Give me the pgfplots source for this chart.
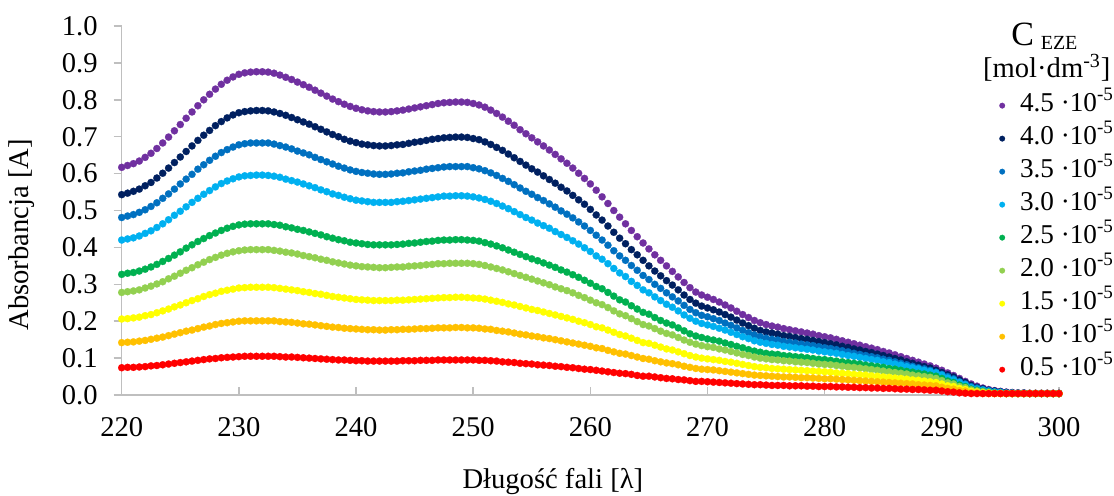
\documentclass[border=0pt]{standalone}
\usepackage{pgfplots}
\pgfplotsset{compat=1.18}
\usepackage{pgfplotstable}
\usepackage{fontspec}
\setmainfont{Liberation Serif}

\definecolor{c45}{HTML}{7030A0}
\definecolor{c40}{HTML}{002060}
\definecolor{c35}{HTML}{0070C0}
\definecolor{c30}{HTML}{00B0F0}
\definecolor{c25}{HTML}{00B050}
\definecolor{c20}{HTML}{92D050}
\definecolor{c15}{HTML}{FFFF00}
\definecolor{c10}{HTML}{FFC000}
\definecolor{c05}{HTML}{FF0000}
\definecolor{axisgray}{HTML}{BFBFBF}

\newcommand{\lbl}{\fontsize{14.3pt}{17pt}\selectfont}
\newcommand{\leg}{\fontsize{13.6pt}{16pt}\selectfont}

% UV spectra of EZE, absorbance vs. wavelength (0.5 nm step)
\pgfplotstableread{
lambda a45 a40 a35 a30 a25 a20 a15 a10 a05
220.0 0.617 0.543 0.481 0.420 0.327 0.278 0.206 0.142 0.074
220.5 0.622 0.547 0.485 0.423 0.330 0.280 0.207 0.143 0.075
221.0 0.627 0.552 0.489 0.426 0.332 0.282 0.209 0.144 0.075
221.5 0.634 0.558 0.495 0.431 0.336 0.285 0.211 0.146 0.076
222.0 0.644 0.567 0.502 0.438 0.341 0.290 0.215 0.148 0.077
222.5 0.655 0.576 0.511 0.445 0.347 0.295 0.218 0.151 0.079
223.0 0.668 0.588 0.521 0.454 0.354 0.301 0.223 0.154 0.080
223.5 0.683 0.601 0.533 0.464 0.362 0.307 0.228 0.157 0.082
224.0 0.699 0.615 0.545 0.475 0.370 0.315 0.233 0.161 0.084
224.5 0.716 0.630 0.558 0.487 0.379 0.322 0.239 0.165 0.086
225.0 0.733 0.645 0.572 0.498 0.388 0.330 0.244 0.169 0.088
225.5 0.750 0.660 0.585 0.510 0.398 0.338 0.250 0.173 0.090
226.0 0.767 0.675 0.598 0.522 0.407 0.345 0.256 0.176 0.092
226.5 0.784 0.690 0.612 0.533 0.416 0.353 0.261 0.180 0.094
227.0 0.800 0.704 0.624 0.544 0.424 0.360 0.267 0.184 0.096
227.5 0.815 0.717 0.636 0.554 0.432 0.367 0.272 0.187 0.098
228.0 0.829 0.730 0.647 0.564 0.439 0.373 0.276 0.191 0.099
228.5 0.842 0.741 0.657 0.573 0.446 0.379 0.281 0.194 0.101
229.0 0.853 0.751 0.665 0.580 0.452 0.384 0.284 0.196 0.102
229.5 0.862 0.759 0.672 0.586 0.457 0.388 0.287 0.198 0.103
230.0 0.869 0.765 0.678 0.591 0.461 0.391 0.290 0.200 0.104
230.5 0.873 0.768 0.681 0.594 0.463 0.393 0.291 0.201 0.105
231.0 0.875 0.770 0.683 0.595 0.464 0.394 0.292 0.201 0.105
231.5 0.876 0.771 0.683 0.596 0.464 0.394 0.292 0.201 0.105
232.0 0.876 0.771 0.683 0.596 0.464 0.394 0.292 0.201 0.105
232.5 0.875 0.770 0.683 0.595 0.464 0.394 0.292 0.201 0.105
233.0 0.872 0.767 0.680 0.593 0.462 0.392 0.291 0.201 0.105
233.5 0.867 0.763 0.676 0.590 0.460 0.390 0.289 0.199 0.104
234.0 0.861 0.758 0.672 0.585 0.456 0.387 0.287 0.198 0.103
234.5 0.855 0.752 0.667 0.581 0.453 0.385 0.285 0.197 0.103
235.0 0.848 0.746 0.661 0.577 0.449 0.382 0.283 0.195 0.102
235.5 0.841 0.740 0.656 0.572 0.446 0.378 0.280 0.193 0.101
236.0 0.834 0.734 0.651 0.567 0.442 0.375 0.278 0.192 0.100
236.5 0.826 0.727 0.644 0.562 0.438 0.372 0.275 0.190 0.099
237.0 0.818 0.720 0.638 0.556 0.434 0.368 0.273 0.188 0.098
237.5 0.810 0.713 0.632 0.551 0.429 0.365 0.270 0.186 0.097
238.0 0.802 0.706 0.626 0.545 0.425 0.361 0.267 0.184 0.096
238.5 0.795 0.700 0.620 0.541 0.421 0.358 0.265 0.183 0.095
239.0 0.788 0.693 0.615 0.536 0.418 0.355 0.263 0.181 0.095
239.5 0.782 0.688 0.610 0.532 0.414 0.352 0.261 0.180 0.094
240.0 0.777 0.684 0.606 0.528 0.412 0.350 0.259 0.179 0.093
240.5 0.773 0.680 0.603 0.526 0.410 0.348 0.258 0.178 0.093
241.0 0.770 0.678 0.601 0.524 0.408 0.347 0.257 0.177 0.092
241.5 0.768 0.676 0.599 0.522 0.407 0.346 0.256 0.177 0.092
242.0 0.767 0.675 0.598 0.522 0.407 0.345 0.256 0.176 0.092
242.5 0.767 0.675 0.598 0.522 0.407 0.345 0.256 0.176 0.092
243.0 0.768 0.676 0.599 0.522 0.407 0.346 0.256 0.177 0.092
243.5 0.770 0.678 0.601 0.524 0.408 0.347 0.257 0.177 0.092
244.0 0.772 0.679 0.602 0.525 0.409 0.347 0.257 0.178 0.093
244.5 0.775 0.682 0.605 0.527 0.411 0.349 0.258 0.178 0.093
245.0 0.778 0.685 0.607 0.529 0.412 0.350 0.259 0.179 0.093
245.5 0.781 0.687 0.609 0.531 0.414 0.351 0.260 0.180 0.094
246.0 0.784 0.690 0.612 0.533 0.416 0.353 0.261 0.180 0.094
246.5 0.787 0.693 0.614 0.535 0.417 0.354 0.262 0.181 0.094
247.0 0.790 0.695 0.616 0.537 0.419 0.356 0.263 0.182 0.095
247.5 0.792 0.697 0.618 0.539 0.420 0.356 0.264 0.182 0.095
248.0 0.793 0.698 0.619 0.539 0.420 0.357 0.264 0.182 0.095
248.5 0.794 0.699 0.619 0.540 0.421 0.357 0.265 0.183 0.095
249.0 0.794 0.699 0.619 0.540 0.421 0.357 0.265 0.183 0.095
249.5 0.793 0.698 0.619 0.539 0.420 0.357 0.264 0.182 0.095
250.0 0.790 0.695 0.616 0.537 0.419 0.356 0.263 0.182 0.095
250.5 0.786 0.692 0.613 0.534 0.417 0.354 0.262 0.181 0.094
251.0 0.780 0.686 0.608 0.530 0.413 0.351 0.260 0.179 0.094
251.5 0.772 0.679 0.602 0.525 0.409 0.347 0.257 0.178 0.093
252.0 0.763 0.671 0.595 0.519 0.404 0.343 0.254 0.175 0.092
252.5 0.753 0.663 0.587 0.512 0.399 0.339 0.251 0.173 0.090
253.0 0.742 0.653 0.579 0.505 0.393 0.334 0.247 0.171 0.089
253.5 0.731 0.643 0.570 0.497 0.387 0.329 0.244 0.168 0.088
254.0 0.719 0.633 0.561 0.489 0.381 0.324 0.240 0.165 0.086
254.5 0.708 0.623 0.552 0.481 0.375 0.319 0.236 0.163 0.085
255.0 0.697 0.613 0.544 0.474 0.369 0.314 0.232 0.160 0.084
255.5 0.686 0.604 0.535 0.466 0.364 0.309 0.229 0.158 0.082
256.0 0.675 0.594 0.527 0.459 0.358 0.304 0.225 0.155 0.081
256.5 0.664 0.584 0.518 0.452 0.352 0.299 0.221 0.153 0.080
257.0 0.652 0.574 0.509 0.443 0.346 0.293 0.217 0.150 0.078
257.5 0.640 0.563 0.499 0.435 0.339 0.288 0.213 0.147 0.077
258.0 0.628 0.553 0.490 0.427 0.333 0.283 0.209 0.144 0.075
258.5 0.615 0.541 0.480 0.418 0.326 0.277 0.205 0.141 0.074
259.0 0.601 0.529 0.469 0.409 0.319 0.270 0.200 0.138 0.072
259.5 0.587 0.517 0.458 0.399 0.311 0.264 0.196 0.135 0.070
260.0 0.572 0.503 0.446 0.389 0.303 0.257 0.191 0.132 0.069
260.5 0.555 0.488 0.433 0.377 0.294 0.250 0.185 0.128 0.067
261.0 0.537 0.474 0.420 0.368 0.288 0.245 0.182 0.126 0.065
261.5 0.519 0.458 0.406 0.356 0.278 0.237 0.176 0.121 0.063
262.0 0.500 0.441 0.391 0.343 0.268 0.228 0.170 0.117 0.061
262.5 0.482 0.425 0.377 0.331 0.258 0.220 0.164 0.113 0.059
263.0 0.464 0.410 0.365 0.321 0.252 0.215 0.160 0.111 0.058
263.5 0.446 0.394 0.351 0.308 0.242 0.207 0.154 0.107 0.056
264.0 0.429 0.380 0.338 0.297 0.233 0.199 0.148 0.103 0.053
264.5 0.412 0.365 0.324 0.285 0.224 0.191 0.142 0.099 0.051
265.0 0.396 0.350 0.313 0.277 0.219 0.187 0.140 0.097 0.051
265.5 0.380 0.336 0.300 0.266 0.210 0.180 0.135 0.093 0.049
266.0 0.365 0.323 0.289 0.256 0.202 0.173 0.130 0.090 0.047
266.5 0.350 0.310 0.277 0.246 0.195 0.167 0.125 0.087 0.045
267.0 0.335 0.298 0.266 0.238 0.190 0.163 0.122 0.085 0.044
267.5 0.320 0.285 0.255 0.228 0.182 0.156 0.117 0.082 0.042
268.0 0.305 0.271 0.243 0.217 0.174 0.149 0.112 0.078 0.041
268.5 0.291 0.259 0.232 0.208 0.166 0.143 0.107 0.075 0.039
269.0 0.279 0.249 0.223 0.200 0.160 0.138 0.103 0.072 0.037
269.5 0.271 0.241 0.216 0.194 0.156 0.134 0.100 0.070 0.037
270.0 0.265 0.236 0.212 0.190 0.152 0.131 0.098 0.069 0.036
270.5 0.259 0.231 0.207 0.186 0.149 0.129 0.096 0.068 0.035
271.0 0.252 0.225 0.202 0.181 0.146 0.125 0.094 0.066 0.034
271.5 0.244 0.218 0.195 0.176 0.141 0.122 0.091 0.064 0.033
272.0 0.236 0.211 0.189 0.170 0.137 0.118 0.089 0.062 0.032
272.5 0.227 0.203 0.182 0.164 0.132 0.114 0.086 0.060 0.031
273.0 0.218 0.195 0.175 0.158 0.128 0.110 0.083 0.058 0.030
273.5 0.210 0.188 0.169 0.153 0.123 0.107 0.080 0.056 0.029
274.0 0.202 0.181 0.163 0.147 0.119 0.103 0.077 0.054 0.028
274.5 0.196 0.175 0.158 0.143 0.116 0.100 0.075 0.053 0.028
275.0 0.191 0.171 0.154 0.140 0.113 0.098 0.074 0.052 0.027
275.5 0.187 0.168 0.151 0.137 0.111 0.096 0.072 0.051 0.026
276.0 0.184 0.165 0.149 0.135 0.110 0.095 0.071 0.050 0.026
276.5 0.180 0.161 0.145 0.132 0.107 0.093 0.070 0.049 0.026
277.0 0.177 0.159 0.143 0.130 0.106 0.092 0.069 0.049 0.025
277.5 0.174 0.156 0.141 0.128 0.104 0.090 0.068 0.048 0.025
278.0 0.171 0.153 0.138 0.126 0.103 0.089 0.067 0.047 0.025
278.5 0.168 0.151 0.136 0.124 0.101 0.088 0.066 0.047 0.024
279.0 0.165 0.148 0.134 0.122 0.099 0.086 0.065 0.046 0.024
279.5 0.161 0.145 0.131 0.119 0.097 0.084 0.064 0.045 0.023
280.0 0.158 0.142 0.128 0.117 0.096 0.083 0.063 0.044 0.023
280.5 0.155 0.139 0.126 0.115 0.094 0.082 0.062 0.044 0.023
281.0 0.151 0.136 0.123 0.113 0.092 0.080 0.060 0.043 0.022
281.5 0.147 0.132 0.120 0.110 0.090 0.078 0.059 0.042 0.022
282.0 0.143 0.129 0.117 0.107 0.088 0.076 0.058 0.041 0.021
282.5 0.139 0.125 0.113 0.105 0.086 0.075 0.056 0.040 0.021
283.0 0.135 0.122 0.110 0.102 0.084 0.073 0.055 0.039 0.020
283.5 0.131 0.118 0.107 0.099 0.081 0.071 0.054 0.038 0.020
284.0 0.127 0.115 0.104 0.096 0.079 0.069 0.052 0.037 0.019
284.5 0.123 0.111 0.101 0.094 0.077 0.067 0.051 0.036 0.019
285.0 0.118 0.107 0.097 0.090 0.075 0.065 0.049 0.035 0.018
285.5 0.114 0.103 0.094 0.088 0.072 0.063 0.048 0.034 0.018
286.0 0.109 0.099 0.090 0.084 0.070 0.061 0.046 0.033 0.017
286.5 0.104 0.095 0.086 0.081 0.067 0.059 0.045 0.032 0.016
287.0 0.099 0.090 0.082 0.077 0.064 0.057 0.043 0.031 0.016
287.5 0.094 0.086 0.078 0.074 0.062 0.054 0.041 0.030 0.015
288.0 0.089 0.081 0.074 0.071 0.059 0.052 0.040 0.028 0.015
288.5 0.084 0.077 0.071 0.067 0.057 0.050 0.038 0.027 0.014
289.0 0.079 0.073 0.067 0.064 0.054 0.048 0.036 0.026 0.013
289.5 0.073 0.067 0.062 0.060 0.051 0.045 0.034 0.025 0.013
290.0 0.067 0.061 0.056 0.054 0.045 0.039 0.030 0.021 0.011
290.5 0.060 0.055 0.050 0.046 0.038 0.033 0.025 0.018 0.009
291.0 0.053 0.049 0.044 0.041 0.034 0.030 0.023 0.016 0.008
291.5 0.045 0.041 0.036 0.034 0.027 0.023 0.018 0.012 0.006
292.0 0.037 0.034 0.030 0.028 0.023 0.020 0.015 0.011 0.005
292.5 0.030 0.026 0.023 0.020 0.016 0.014 0.010 0.007 0.004
293.0 0.024 0.021 0.019 0.016 0.013 0.011 0.008 0.006 0.004
293.5 0.019 0.017 0.015 0.013 0.010 0.009 0.006 0.004 0.004
294.0 0.015 0.013 0.012 0.010 0.008 0.007 0.005 0.004 0.004
294.5 0.012 0.011 0.009 0.008 0.006 0.005 0.004 0.004 0.004
295.0 0.010 0.009 0.008 0.007 0.005 0.005 0.004 0.004 0.004
295.5 0.008 0.007 0.006 0.005 0.004 0.004 0.004 0.004 0.004
296.0 0.007 0.006 0.005 0.005 0.004 0.004 0.004 0.004 0.004
296.5 0.006 0.005 0.005 0.004 0.004 0.004 0.004 0.004 0.004
297.0 0.006 0.005 0.005 0.004 0.004 0.004 0.004 0.004 0.004
297.5 0.005 0.004 0.004 0.004 0.004 0.004 0.004 0.004 0.004
298.0 0.005 0.004 0.004 0.004 0.004 0.004 0.004 0.004 0.004
298.5 0.005 0.004 0.004 0.004 0.004 0.004 0.004 0.004 0.004
299.0 0.005 0.004 0.004 0.004 0.004 0.004 0.004 0.004 0.004
299.5 0.005 0.004 0.004 0.004 0.004 0.004 0.004 0.004 0.004
300.0 0.005 0.004 0.004 0.004 0.004 0.004 0.004 0.004 0.004
}\spectra

\pgfplotsset{
  spectrum/.style={only marks, mark=*, mark size=1.8pt,
    mark options={draw=#1, fill=#1, line width=0.1pt}},
}

\begin{document}
\begin{tikzpicture}
\begin{axis}[
  name=ax,
  scale only axis, width=468.6pt, height=184.5pt,
  xmin=220, xmax=300, ymin=0, ymax=1,
  clip=false,
  axis x line*=bottom, axis y line*=left,
  axis line style={axisgray, line width=0.75pt},
  tick style={axisgray, line width=0.75pt},
  major tick length=4pt, tick align=outside,
  x tick style={yshift=4pt},
  xtick={220,230,240,250,260,270,280,290,300},
  ytick={0,0.1,0.2,0.3,0.4,0.5,0.6,0.7,0.8,0.9,1},
  /pgf/number format/assume math mode=true,
  tick label style={font=\lbl, black},
  yticklabel style={xshift=-4.5pt, /pgf/number format/.cd, fixed, fixed zerofill, precision=1},
  xticklabel style={yshift=-3.7pt},
  xlabel={Długość fali [λ]},
  ylabel={Absorbancja [A]},
  label style={font=\lbl, black},
  xlabel style={at={(axis description cs:0.46,-0.252)}, anchor=base},
  ylabel style={at={(axis description cs:-0.1064,0.434)}, anchor=center},
  legend cell align=left,
  legend image code/.code={\draw[#1] plot coordinates {(0.1cm,0cm)};},
  legend image post style={mark size=1.4pt},
  legend style={at={(axis description cs:0.936,0.830)}, anchor=north west,
    draw=none, fill=none, inner sep=0pt, font=\leg, row sep=0pt,
    nodes={inner sep=0pt, text height=11pt, text depth=5.5pt},
    /tikz/every odd column/.append style={column sep=7.5pt}},
]
\addplot[spectrum=c45] table[x=lambda, y=a45] {\spectra};
\addlegendentry{4.5 ·10\textsuperscript{-5}}
\addplot[spectrum=c40] table[x=lambda, y=a40] {\spectra};
\addlegendentry{4.0 ·10\textsuperscript{-5}}
\addplot[spectrum=c35] table[x=lambda, y=a35] {\spectra};
\addlegendentry{3.5 ·10\textsuperscript{-5}}
\addplot[spectrum=c30] table[x=lambda, y=a30] {\spectra};
\addlegendentry{3.0 ·10\textsuperscript{-5}}
\addplot[spectrum=c25] table[x=lambda, y=a25] {\spectra};
\addlegendentry{2.5 ·10\textsuperscript{-5}}
\addplot[spectrum=c20] table[x=lambda, y=a20] {\spectra};
\addlegendentry{2.0 ·10\textsuperscript{-5}}
\addplot[spectrum=c15] table[x=lambda, y=a15] {\spectra};
\addlegendentry{1.5 ·10\textsuperscript{-5}}
\addplot[spectrum=c10] table[x=lambda, y=a10] {\spectra};
\addlegendentry{1.0 ·10\textsuperscript{-5}}
\addplot[spectrum=c05] table[x=lambda, y=a05] {\spectra};
\addlegendentry{0.5 ·10\textsuperscript{-5}}

% legend heading
\node[anchor=base, font=\lbl] at (axis description cs:0.985,0.948)
  {{\fontsize{17pt}{19pt}\selectfont C}\textsubscript{\,\,EZE}};
\node[anchor=base, font=\lbl] at (axis description cs:0.987,0.860) {[mol·dm\textsuperscript{-3}]};
\end{axis}
\pgfresetboundingbox
\path[use as bounding box] ([xshift=-60.85pt,yshift=-50pt]ax.south west)
  rectangle ([xshift=27.5pt,yshift=13pt]ax.north east);
\end{tikzpicture}
\end{document}
